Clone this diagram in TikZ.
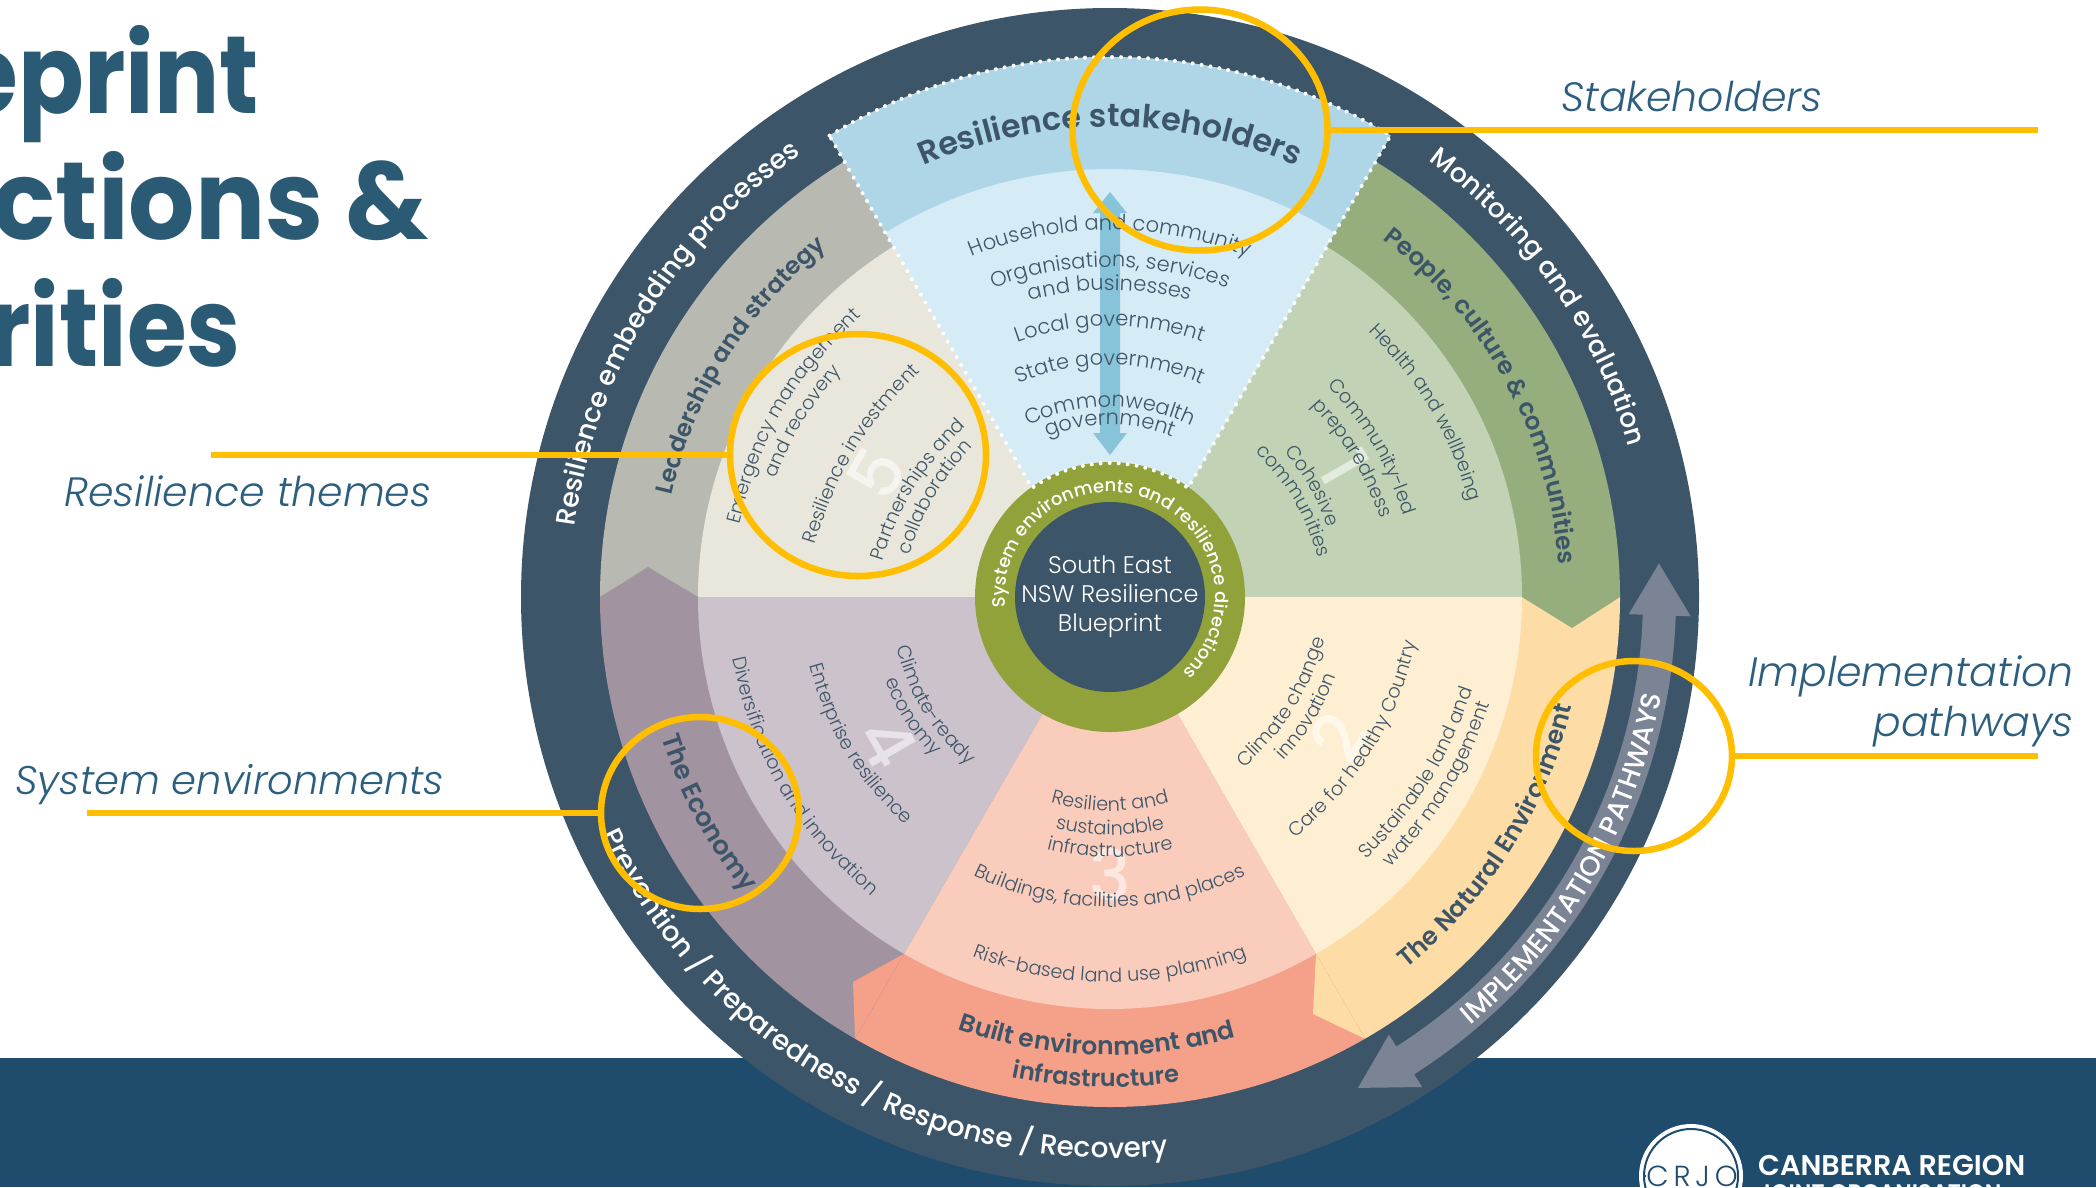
\documentclass[tikz,border=0pt]{standalone}
\usepackage{fontspec}
\setmainfont{Poppins}
\newfontfamily\fl{Poppins Light}
\newfontfamily\fm{Poppins Medium}
\newfontfamily\fb{Poppins SemiBold}
\usetikzlibrary{decorations.text,shapes.geometric}
\definecolor{ink}{HTML}{3D5568}
\definecolor{titlec}{HTML}{2B5A75}
\definecolor{barc}{HTML}{1F4B6C}
\definecolor{labelc}{HTML}{2C5F7F}
\definecolor{hi}{HTML}{FFBE00}
\definecolor{grayB}{HTML}{B8B9B1}\definecolor{grayI}{HTML}{E9E7DC}
\definecolor{purpB}{HTML}{A293A1}\definecolor{purpI}{HTML}{CCC2CB}
\definecolor{salB}{HTML}{F5A088}\definecolor{salI}{HTML}{FACCBC}
\definecolor{peachB}{HTML}{FDDCA5}\definecolor{peachI}{HTML}{FEEFD3}
\definecolor{grnB}{HTML}{96AE7E}\definecolor{grnI}{HTML}{C2D2B5}
\definecolor{bluB}{HTML}{AED6E7}\definecolor{bluI}{HTML}{D5EBF6}
\definecolor{bluA}{HTML}{88C4D9}
\definecolor{olive}{HTML}{91A23A}
\definecolor{arrowc}{HTML}{7B8494}
% text along a clockwise arc (letter tops outward): format, mid angle, half span, radius, text
\newcommand{\cwtext}[5]{\path[decorate,decoration={text along path,text align=center,text={|#1|#5}}]
  ({#2+#3}:#4) arc[start angle={#2+#3},end angle={#2-#3},radius=#4pt];}
% text along a counter-clockwise arc (letter tops inward)
\newcommand{\ccwtext}[5]{\path[decorate,decoration={text along path,text align=center,text={|#1|#5}}]
  ({#2-#3}:#4) arc[start angle={#2-#3},end angle={#2+#3},radius=#4pt];}
% text along a bent line: format, from, to, bend, text
\newcommand{\bendtext}[5]{\path[decorate,decoration={text along path,text align=center,text={|#1|#5}}]
  (#2) to[#4] (#3);}
\newcommand{\thm}{\fl\fontsize{19.2}{19.2}\selectfont\color{ink}}
\newcommand{\stk}{\fl\fontsize{21}{21}\selectfont\color{ink}}
\newcommand{\bnd}[1]{\fb\fontsize{#1}{#1}\selectfont\color{ink}}
\newcommand{\ringt}[1]{\fm\fontsize{#1}{#1}\selectfont\color{white}}
\tikzset{
  callout/.style={ellipse,draw=hi,line width=6.5pt,inner sep=0pt,fill=none},
  leader/.style={draw=hi,line width=6pt},
  digit/.style={inner sep=0pt,font=\fm\fontsize{70}{70}\selectfont},
  heading/.style={anchor=base east,inner sep=0pt,text=titlec,xscale=.88,transform shape,font=\bfseries\fontsize{110}{110}\selectfont},
  tag/.style={inner sep=0pt,text=labelc,font=\fl\itshape\fontsize{41}{41}\selectfont},
  dots/.style={draw=white,line width=4pt,line cap=round,dash pattern=on 0pt off 9pt},
}
\begin{document}
\begin{tikzpicture}[x=1pt,y=1pt]
\path[use as bounding box,clip] (0,0) rectangle (2096,-1187);
\fill[white] (0,0) rectangle (2096,-1187);
% title, cut by the left edge
\node[heading] (t1) at (259,-113) {eprint};
\node[heading,xscale=1.076] (t2) at (429,-239) {ctions \&};
\node[heading] (t3) at (241,-366) {rities};
% footer
\fill[barc] (0,-1058) rectangle (2096,-1187);
\fill[white] (1691,-1176) circle[radius=52pt];
\draw[barc,line width=2pt] (1691,-1176) circle[radius=47pt];
\node[inner sep=0pt,text=barc,font=\fl\fontsize{29}{29}\selectfont] (crjo) at (1692,-1176) {C\,R\,J\,O};
\coordinate (crjoL) at (1644,-1176);
\coordinate (crjoR) at (1738,-1176);
\draw[barc,line width=1.5pt] (crjoL) -- (crjo.west) (crjo.east) -- (crjoR);
\node[anchor=base west,inner sep=0pt,text=white,font=\fb\fontsize{28.5}{28.5}\selectfont] (org1) at (1758,-1175) {CANBERRA REGION};
\node[anchor=base west,inner sep=0pt,text=white,font=\fb\fontsize{22.5}{22.5}\selectfont] (org2) at (1758,-1200) {JOINT ORGANISATION};
% wheel
\begin{scope}[shift={(1110,-597)}]
  \fill[ink] (0,0) circle[radius=589pt];
  % bands
  \fill[grayB] (0,0) -- (180:510) arc[start angle=180,end angle=90,radius=510pt] -- cycle;
  \fill[grnB] (0,0) -- (90:510) arc[start angle=90,end angle=0,radius=510pt] -- cycle;
  \fill[peachB] (0,0) -- (0:510) arc[start angle=0,end angle=-60,radius=510pt] -- cycle;
  \fill[salB] (0,0) -- (-60:510) arc[start angle=-60,end angle=-120,radius=510pt] -- cycle;
  \fill[purpB] (0,0) -- (-120:510) arc[start angle=-120,end angle=-180,radius=510pt] -- cycle;
  % chevrons pointing clockwise into the next band
  \fill[grnB] (0:412) -- (0:510) -- (462,-31) -- cycle;
  \fill[peachB] (-60:412) -- (-60:510) -- (203,-417) -- cycle;
  \fill[salB] (-120:412) -- (-120:510) -- (-257,-385) -- cycle;
  \fill[purpB] (180:412) -- (180:510) -- (-462,30) -- cycle;
  % inner sectors
  \fill[grayI] (0,0) -- (180:412) arc[start angle=180,end angle=90,radius=412pt] -- cycle;
  \fill[grnI] (0,0) -- (90:412) arc[start angle=90,end angle=0,radius=412pt] -- cycle;
  \fill[peachI] (0,0) -- (0:412) arc[start angle=0,end angle=-60,radius=412pt] -- cycle;
  \fill[salI] (0,0) -- (-60:412) arc[start angle=-60,end angle=-120,radius=412pt] -- cycle;
  \fill[purpI] (0,0) -- (-120:412) arc[start angle=-120,end angle=-180,radius=412pt] -- cycle;
  % stakeholder wedge
  \fill[bluI] (121.3:540) arc[start angle=121.3,end angle=58.7,radius=540pt] -- (78,109) -- (-78,109) -- cycle;
  \begin{scope}
    \clip (121.3:540) arc[start angle=121.3,end angle=58.7,radius=540pt] -- (78,109) -- (-78,109) -- cycle;
    \fill[bluB,even odd rule] (0,0) circle[radius=570pt] (0,0) circle[radius=428pt];
  \end{scope}
  % blue double arrow
  \fill[bluA] (0,405) -- (17,384) -- (10,384) -- (10,164) -- (17,164) -- (0,142) -- (-17,164) -- (-10,164) -- (-10,384) -- (-17,384) -- cycle;
  % implementation arrow
  \fill[arrowc] (3.5:550) -- (-1.9:519) -- (-1.9:533) arc[start angle=-1.9,end angle=-57.5,radius=533pt]
    -- (-57.5:519) -- (-63.2:550) -- (-57.5:581) -- (-57.5:566) arc[start angle=-57.5,end angle=-1.9,radius=566pt]
    -- (-1.9:581) -- cycle;
  % hub
  \fill[olive] (0,0) circle[radius=135pt];
  \fill[ink] (0,0) circle[radius=95pt];
  % dotted outline of the wedge
  \draw[dots] (121.3:540) arc[start angle=121.3,end angle=58.7,radius=540pt] -- (54.4:134) arc[start angle=54.4,end angle=125.6,radius=134pt] -- cycle;
  \node[inner sep=0pt,align=center,text=white,font=\fl\fontsize{24}{29}\selectfont] (hub) at (0,0) {South East\\NSW Resilience\\Blueprint};
  % ring and band texts
  \cwtext{\ringt{18}}{69.8}{150}{105}{System environments and resilience directions}
  \cwtext{\ringt{27}}{148.7}{40}{540}{Resilience embedding processes}
  \cwtext{\ringt{26.7}}{35}{35}{540}{Monitoring and evaluation}
  \ccwtext{\ringt{27.8}}{240.5}{50}{561}{Prevention / Preparedness / Response / Recovery}
  \ccwtext{\ringt{27.5}}{-30}{30}{560}{IMPLEMENTATION PATHWAYS}
  \cwtext{\bnd{24}}{148}{35}{450}{Leadership and strategy}
  \cwtext{\bnd{24.5}}{28.4}{35}{450}{People, culture {\&} communities}
  \ccwtext{\bnd{25}}{-32.4}{35}{475}{The Natural Environment}
  \ccwtext{\bnd{26}}{208.2}{25}{470}{The Economy}
  \ccwtext{\bnd{25}}{-91.7}{30}{458}{Built environment and}
  \ccwtext{\bnd{24}}{-91.7}{30}{490}{infrastructure}
  \cwtext{\bnd{32}}{90}{30}{470}{Resilience stakeholders}
  \cwtext{\stk}{90}{40}{367}{Household and community}
  \cwtext{\stk}{90}{40}{330}{Organisations, services}
  \cwtext{\stk}{90}{40}{307}{and businesses}
  \cwtext{\stk}{90}{40}{271}{Local government}
  \cwtext{\stk}{90}{40}{232}{State government}
  \cwtext{\stk}{90}{40}{190}{Commonwealth}
  \cwtext{\stk}{90}{40}{172}{government}
  \node[digit,text=white!55!salI] (d3) at (0,-278) {3};
  \ccwtext{\thm}{-90}{40}{214}{Resilient and}
  \ccwtext{\thm}{-90}{40}{238}{sustainable}
  \ccwtext{\thm}{-90}{40}{260}{infrastructure}
  \ccwtext{\thm}{-90}{35}{310}{Buildings, facilities and places}
  \ccwtext{\thm}{-90}{30}{385}{Risk-based land use planning}
\end{scope}
% theme digits
\node[digit,text=white!55!grayI,rotate=60] (d5) at (877,-473) {5};
\node[digit,text=white!55!grnI,rotate=-60] (d1) at (1345,-467) {1};
\node[digit,text=white!55!purpI,rotate=-60] (d4) at (888,-742) {4};
\node[digit,text=white!55!peachI,rotate=60] (d2) at (1338,-737) {2};
% theme texts
\bendtext{\thm}{739,-525}{861,-316}{bend left=16}{Emergency management}
\bendtext{\thm}{775,-480}{843,-370}{bend left=10}{and recovery}
\bendtext{\thm}{815,-544}{920,-372}{bend left=14}{Resilience investment}
\bendtext{\thm}{883,-560}{965,-427}{bend left=14}{Partnerships and}
\bendtext{\thm}{910,-555}{973,-447}{bend left=13}{collaboration}
\bendtext{\thm}{1367,-330}{1470,-504}{bend left=14}{Health and wellbeing}
\bendtext{\thm}{1329,-387}{1403,-514}{bend left=12}{Community-led}
\bendtext{\thm}{1313,-407}{1380,-517}{bend left=11}{preparedness}
\bendtext{\thm}{1285,-452}{1327,-527}{bend left=10}{Cohesive}
\bendtext{\thm}{1258,-454}{1317,-555}{bend left=13}{communities}
\bendtext{\thm}{732,-657}{872,-897}{bend right=18}{Diversification and innovation}
\bendtext{\thm}{810,-667}{904,-824}{bend right=15}{Enterprise resilience}
\bendtext{\thm}{897,-649}{967,-764}{bend right=15}{Climate-ready}
\bendtext{\thm}{885,-680}{934,-757}{bend right=11}{economy}
\bendtext{\thm}{1243,-769}{1325,-638}{bend right=15}{Climate change}
\bendtext{\thm}{1283,-761}{1336,-675}{bend right=11}{innovation}
\bendtext{\thm}{1294,-840}{1417,-641}{bend right=17}{Care for healthy Country}
\bendtext{\thm}{1365,-861}{1473,-688}{bend right=13}{Sustainable land and}
\bendtext{\thm}{1390,-868}{1490,-703}{bend right=12}{water management}
% call-outs
\node[callout,minimum width=255pt,minimum height=241pt] (c1) at (1200,-130) {};
\node[callout,minimum width=256pt,minimum height=242pt] (c2) at (858,-455) {};
\node[callout,minimum width=198pt,minimum height=192pt] (c3) at (700,-813) {};
\node[callout,minimum width=196pt,minimum height=190pt] (c4) at (1634,-756) {};
\coordinate (e1) at (2038,-130);
\coordinate (e2) at (211,-455);
\coordinate (e3) at (87,-813);
\coordinate (e4) at (2038,-756);
\draw[leader] (c1.east) -- (e1);
\draw[leader] (c2.west) -- (e2);
\draw[leader] (c3.west) -- (e3);
\draw[leader] (c4.east) -- (e4);
\node[tag,anchor=base west] (l1) at (1561,-111) {Stakeholders};
\node[tag,anchor=base west] (l2) at (64,-506) {Resilience themes};
\node[tag,anchor=base west,font=\fl\itshape\fontsize{40}{40}\selectfont] (l3) at (15,-794) {System environments};
\node[tag,anchor=base east] (l4) at (2074,-686) {Implementation};
\node[tag,anchor=base east] (l5) at (2074,-736) {pathways};
\end{tikzpicture}
\end{document}
